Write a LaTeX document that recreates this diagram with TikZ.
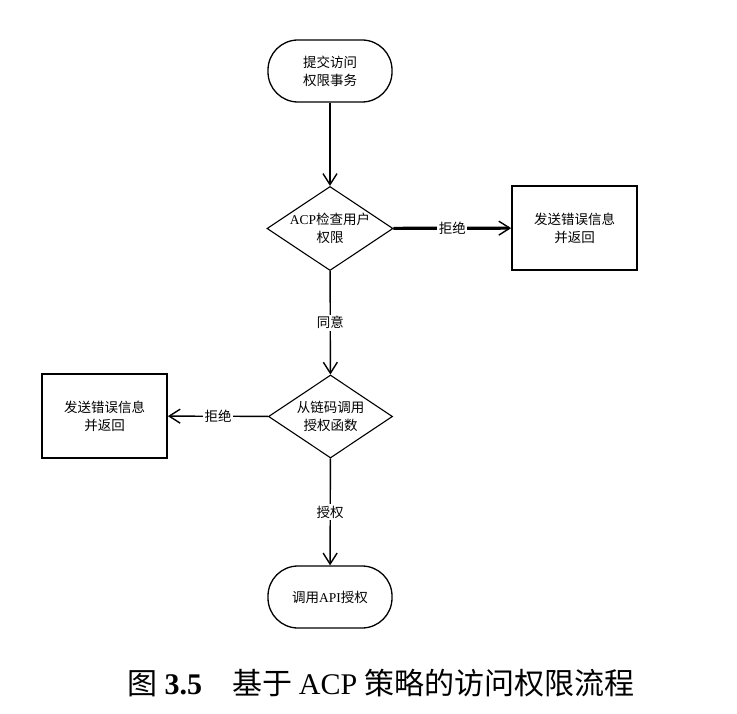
\documentclass[tikz,border=0pt]{standalone}
\usepackage{fontspec}
\setmainfont{Noto Sans CJK SC}
\newfontfamily\latn{Liberation Serif}
\usetikzlibrary{arrows.meta,shapes.geometric}
\begin{document}
\begin{tikzpicture}[x=1pt,y=-1pt,
  every node/.style={font=\fontsize{13.5}{18}\selectfont, align=center},
  term/.style={draw, line width=1.3pt, rounded corners=30pt, minimum width=124pt, minimum height=62pt, inner sep=0pt},
  dec/.style={draw, diamond, aspect=1.5, line width=1.1pt, minimum width=124pt, minimum height=83pt, inner sep=0pt},
  errbox/.style={draw, line width=1.8pt, minimum width=125pt, minimum height=84pt, inner sep=0pt},
  lab/.style={fill=white, inner sep=1.5pt},
  arr/.style={line width=1.4pt, -{Straight Barb[length=11pt, width=14pt, line width=1.4pt]}}
]
\useasboundingbox (0,0) rectangle (737,714);
\node[term] (start) at (330,71) {提交访问\\权限事务};
\node[dec] (d1) at (330,228.5) {{\latn ACP}检查用户\\权限};
\node[errbox] (e1) at (574.5,228) {发送错误信息\\并返回};
\node[dec] (d2) at (330.5,416.5) {从链码调用\\授权函数};
\node[errbox] (e2) at (104.5,416) {发送错误信息\\并返回};
\node[term] (end) at (330,597) {调用{\latn API}授权};
\node[font=\fontsize{30}{34}\selectfont] (cap) at (381,683) {图 {\latn\bfseries 3.5}\hspace{1em}基于 {\latn ACP} 策略的访问权限流程};
\draw[arr] (start) -- (d1);
\draw[arr, line width=3.2pt] (d1) -- node[lab] {拒绝} (e1);
\draw[arr] (d1) -- node[lab] {同意} (d2);
\draw[arr] (d2) -- node[lab] {拒绝} (e2);
\draw[arr] (d2) -- node[lab] {授权} (end);
\end{tikzpicture}
\end{document}
